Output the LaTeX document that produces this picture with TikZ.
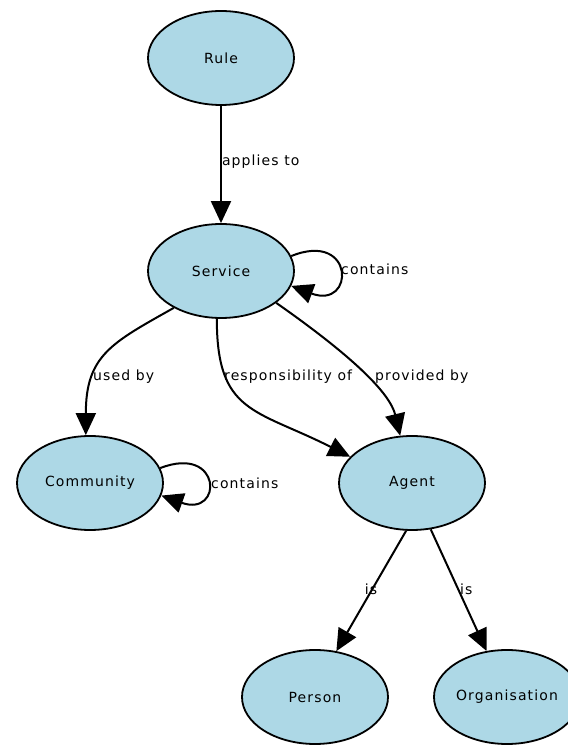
\documentclass[tikz,border=0pt]{standalone}
\usepackage{fontspec}
\setmainfont{DejaVu Sans}[LetterSpace=8.0]
\usetikzlibrary{shapes.geometric,arrows.meta}
\definecolor{nodefill}{RGB}{173,216,230}
\tikzset{
  concept/.style={ellipse, draw=black, line width=1.8pt, fill=nodefill,
    minimum width=146pt, minimum height=94pt, inner sep=0pt,
    font=\fontsize{14}{16}\selectfont},
  edge/.style={draw=black, line width=2pt, -{Triangle[length=22pt,width=20pt]}},
  elabel/.style={font=\fontsize{14}{16}\selectfont, inner sep=0pt, fill=none}
}
\begin{document}
\begin{tikzpicture}[x=1pt,y=1pt]
\useasboundingbox (0,0) rectangle (568,745);
\node[concept] (rule) at (221,687) {Rule};
\node[concept] (svc) at (221,474) {Service};
\node[concept] (com) at (90,262) {Community};
\node[concept] (agent) at (412,262) {Agent};
\node[concept] (per) at (315,48) {Person};
\node[concept] (org) at (507,48) {Organisation};

\draw[edge] (rule) -- (svc) node[elabel, midway, anchor=west, xshift=0pt, yshift=3pt] {applies to};

\draw[edge] (svc.12) .. controls +(64,26) and +(64,-24) .. (svc.-12);
\node[elabel, anchor=west] (lsvc) at (341,476) {contains};

\draw[edge] (svc.218) .. controls +(-62,-35) and +(0,80) .. (com.95);
\node[elabel, anchor=west] (lused) at (93,368) {used by};

\draw[edge] (svc.265) .. controls +(0,-95) and +(-95,48) .. (agent.157);
\node[elabel, anchor=west] (lresp) at (224,368) {responsibility of};

\draw[edge] (svc.-30) .. controls +(50,-35) and +(-12,50) .. (agent.104);
\node[elabel, anchor=west] (lprov) at (375,368) {provided by};

\draw[edge] (com.12) .. controls +(62,24) and +(62,-22) .. (com.-10);
\node[elabel, anchor=west] (lcom) at (211,262) {contains};

\draw[edge] (agent.263) -- (per.65);
\node[elabel, anchor=center] (lis1) at (371,156) {is};
\draw[edge] (agent.292) -- (org.114);
\node[elabel, anchor=west] (lis2) at (460,156) {is};
\end{tikzpicture}
\end{document}
